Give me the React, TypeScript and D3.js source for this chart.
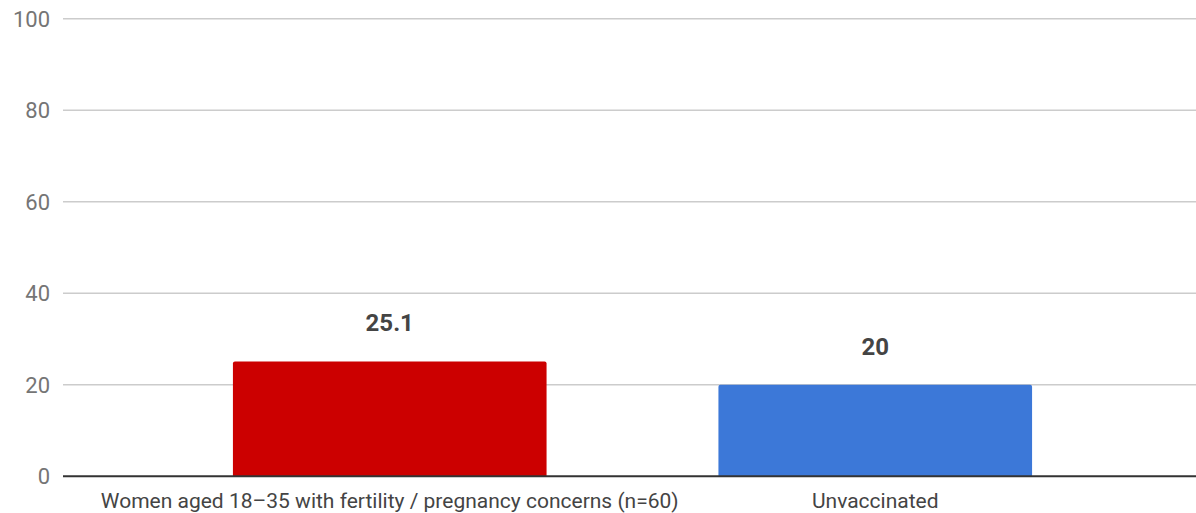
import * as d3 from 'd3'
import { FC } from 'react'

const categories: string[] = [
    'Women aged 18–35 with fertility / pregnancy concerns (n=60)',
    'Unvaccinated',
]
const values: number[] = [25.1, 20]
const valueLabels: string[] = ['25.1', '20']
const barColors: string[] = ['#cc0000', '#3c78d8']
const yTicks: number[] = [0, 20, 40, 60, 80, 100]

const App: FC = () => {
    const dimensions = { width: 1196, height: 513 }
    const plot = { left: 63, right: 1202, top: 18.7, bottom: 476.3 }

    const x = d3.scaleBand<string>()
        .domain(categories)
        .range([plot.left, plot.right])
        .paddingInner(0.354)
        .paddingOuter(0.35)

    const y = d3.scaleLinear()
        .domain([0, 100])
        .range([plot.bottom, plot.top])

    // bar with slightly rounded top corners
    const barPath = (x0: number, w: number, top: number, bottom: number) => {
        const r = 2
        return `M${x0},${bottom}V${top + r}Q${x0},${top} ${x0 + r},${top}H${x0 + w - r}Q${x0 + w},${top} ${x0 + w},${top + r}V${bottom}Z`
    }

    return (
        <svg
            width={dimensions.width}
            height={dimensions.height}
            style={{ position: 'absolute', left: 0, top: 0, fontFamily: 'Roboto, sans-serif' }}
        >
            {yTicks.filter(t => t !== 0).map(t => (
                <line key={t} x1={plot.left} x2={dimensions.width} y1={y(t)} y2={y(t)}
                    stroke="#cccccc" strokeWidth={1.5} />
            ))}
            {yTicks.map(t => (
                <text key={t} x={50} y={y(t) + 8} textAnchor="end" fontSize={22} fill="#757575">{t}</text>
            ))}
            {categories.map((c, i) => (
                <path key={c}
                    d={barPath(x(c)!, x.bandwidth(), y(values[i]), y(0))}
                    fill={barColors[i]} />
            ))}
            <line x1={plot.left} x2={dimensions.width} y1={y(0)} y2={y(0)} stroke="#333333" strokeWidth={2} />
            {categories.map((c, i) => (
                <text key={c} x={x(c)! + x.bandwidth() / 2} y={y(values[i]) - 30}
                    textAnchor="middle" fontSize={24} fontWeight="bold" fill="#444444">{valueLabels[i]}</text>
            ))}
            {categories.map(c => (
                <text key={c} x={x(c)! + x.bandwidth() / 2} y={508}
                    textAnchor="middle" fontSize={21} fill="#444444">{c}</text>
            ))}
        </svg>
    )
}

export default App
